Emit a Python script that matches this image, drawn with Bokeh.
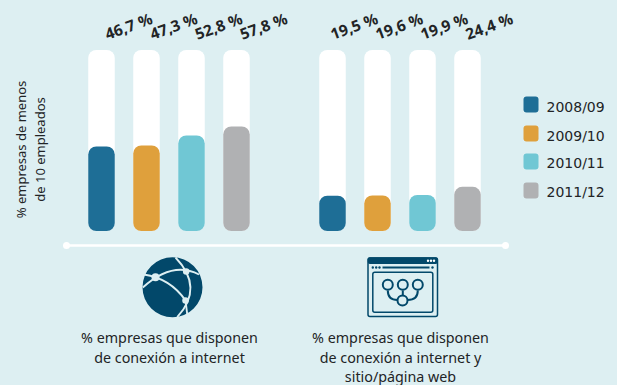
from bokeh.plotting import figure
from bokeh.models import Range1d
from bokeh.core.properties import value
from bokeh.embed import file_html
from bokeh.resources import INLINE

periods = ["2008/09", "2009/10", "2010/11", "2011/12"]
internet = [46.7, 47.3, 52.8, 57.8]
web = [19.5, 19.6, 19.9, 24.4]
labels_internet = ["46,7 %", "47,3 %", "52,8 %", "57,8 %"]
labels_web = ["19,5 %", "19,6 %", "19,9 %", "24,4 %"]
colors = ["#1e6e96", "#dfa03c", "#70c7d4", "#b0b1b3"]
y_title = ["% empresas de menos", "de 10 empleados"]
cap_internet = ["% empresas que disponen", "de conexión a internet"]
cap_web = ["% empresas que disponen", "de conexión a internet y", "sitio/página web"]

BG = "#ddeff2"
DARK = "#02486a"
INK = "#222426"
W, H = 617, 385
Y0, PX = 230.5, 1.81   # screen row of 0 %, pixels per percent

p = figure(width=W, height=H, output_backend="svg", toolbar_location=None,
           x_range=Range1d(0, W),
           y_range=Range1d(-(H - Y0) / PX, Y0 / PX),
           min_border=0, background_fill_color=BG, border_fill_color=BG)
p.extra_y_ranges = {"px": Range1d(H, 0)}
p.axis.visible = False
p.grid.visible = False
p.outline_line_color = None
S = dict(y_range_name="px")

# bars
groups = [(101, 45, internet, labels_internet, 27, 25.5),
          (332, 45, web, labels_web, 21.5, 25.5)]
for x0, step, vals, labs, dx, ly in groups:
    xs = [x0 + i * step for i in range(4)]
    p.vbar(x=xs, bottom=0, top=100, width=26.5, fill_color="white", line_color=None, border_radius=8)
    p.vbar(x=xs, bottom=0, top=vals, width=26.5, fill_color=colors, line_color=None, border_radius=8)
    p.text(x=[x + dx for x in xs], y=[ly] * 4, text=labs, angle=20, angle_units="deg",
           text_font=value("Noto Sans"), text_font_style="bold", text_font_size="15.5px",
           text_color=INK, text_align="center", text_baseline="middle", **S)

# baseline rule
p.line([66, 505], [245, 245], line_color="white", line_width=2.5, **S)
p.scatter([66, 505], [245, 245], size=7, fill_color="white", line_color=None, **S)

# legend
for name, col, cy, ty in zip(periods, colors, [104, 133, 161, 190], [106, 135, 162.5, 191.5]):
    p.quad(left=523, right=538, top=cy - 8, bottom=cy + 8, fill_color=col, line_color=None,
           border_radius=3, **S)
    p.text(x=[546], y=[ty], text=[name], text_font=value("DejaVu Sans"), text_font_size="14px",
           text_color=INK, text_baseline="middle", **S)

# y title
for t, x in zip(y_title, [20, 39]):
    p.text(x=[x], y=[149], text=[t], angle=90, angle_units="deg", text_font=value("Noto Sans"),
           text_font_size="13px", text_color=INK, text_align="center", text_baseline="middle", **S)

# captions
for lines, cx, ys in [(cap_internet, 169, [336.5, 356.5]), (cap_web, 400, [336.5, 356.5, 375.5])]:
    p.text(x=[cx] * len(lines), y=ys, text=lines, text_font=value("Noto Sans"), text_font_size="14.3px",
           text_color=INK, text_align="center", text_baseline="middle", **S)

# globe icon
p.scatter([172], [286.7], size=60, fill_color=DARK, line_color=None, **S)
arcs = [(142.3, 287, 198.5, 274, 172, 260), (143.3, 274, 185, 300, 170, 278),
        (175, 257, 176.7, 316.7, 204, 287)]
for x0, y0, x1, y1, cx, cy in arcs:
    p.quadratic(x0=[x0], y0=[y0], x1=[x1], y1=[y1], cx=[cx], cy=[cy], line_color=BG, line_width=1.9, **S)
p.line([185, 187], [300, 316], line_color=BG, line_width=1.9, **S)
p.scatter([155], [276.7], size=8, fill_color=BG, line_color=None, **S)
p.scatter([185.7, 185], [271, 300], size=6.5, fill_color=BG, line_color=None, **S)

# browser icon
p.quad(left=367.5, right=437, top=257.5, bottom=316, fill_color=None, line_color=DARK, line_width=1.5,
       border_radius=2, **S)
p.quad(left=367.3, right=437.3, top=256.8, bottom=263.5, fill_color=DARK, line_color=None, border_radius=2, **S)
p.scatter([427.5, 430.5, 433.5], [260.2] * 3, size=2.4, fill_color="white", line_color=None, **S)
p.line([382, 429], [267, 267], line_color=DARK, line_width=2, **S)
p.scatter([372.3, 375.7, 379, 432], [267] * 4, size=2.4, fill_color=DARK, line_color=None, **S)
p.quad(left=372.3, right=432.3, top=271.7, bottom=311.7, fill_color=None, line_color=DARK, line_width=1.5,
       border_radius=2, **S)
p.line([402.3, 402.3], [290, 295], line_color=DARK, line_width=2, **S)
p.quadratic(x0=[387.3], y0=[290], x1=[397], y1=[299.5], cx=[387.3], cy=[299.5], line_color=DARK, line_width=2, **S)
p.quadratic(x0=[417.3], y0=[290], x1=[407], y1=[299.5], cx=[417.3], cy=[299.5], line_color=DARK, line_width=2, **S)
p.scatter([387.3, 402.3, 417.3, 402], [284.3, 284.3, 284.3, 300], size=10, fill_color=BG, line_color=DARK,
          line_width=2, **S)

html = file_html(p, INLINE)
html = html.replace("<body>", f'<body style="margin:0;background:{BG};overflow:hidden">')
open("out.html", "w").write(html)
